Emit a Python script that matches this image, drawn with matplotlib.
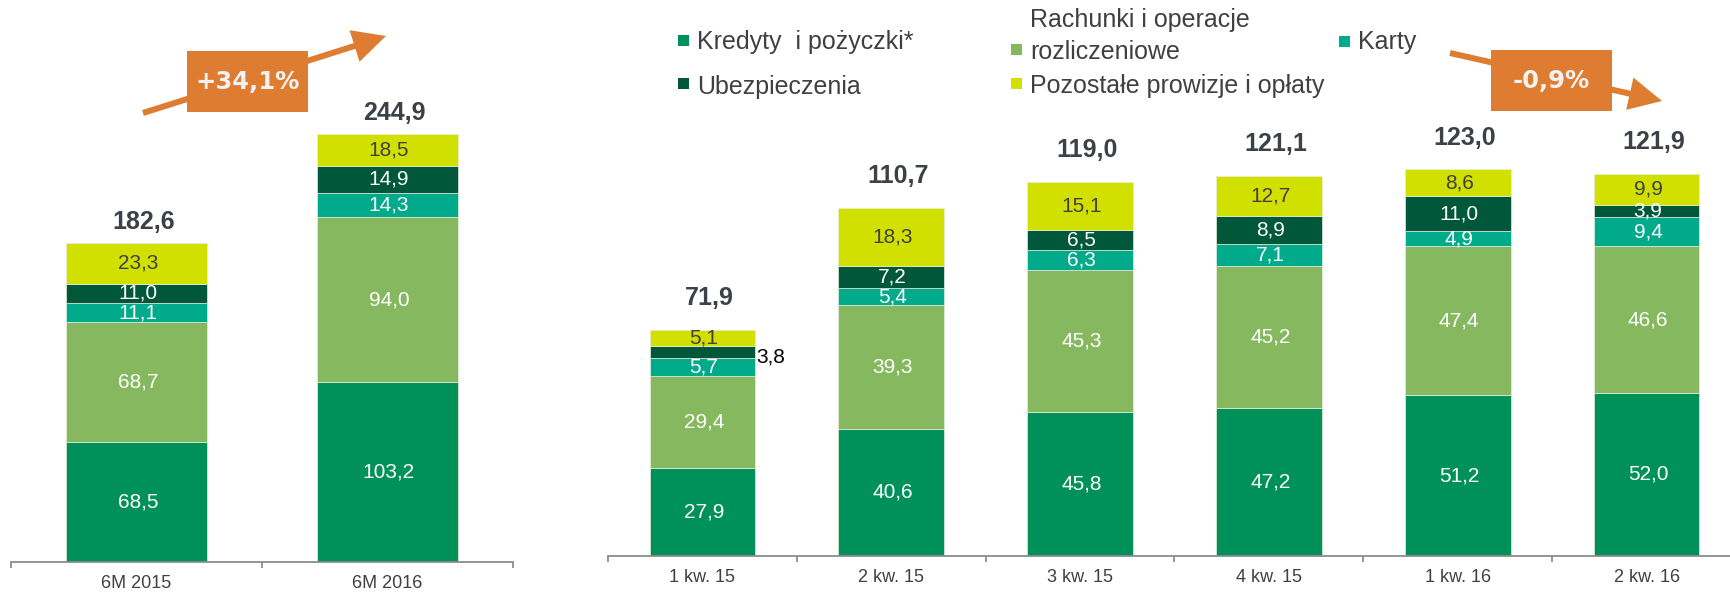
import matplotlib
matplotlib.use('Agg')
import matplotlib.pyplot as plt
from matplotlib.patches import Rectangle, FancyArrow
import numpy as np

plt.rcParams['font.family'] = ['Liberation Sans', 'DejaVu Sans']

W, H = 1731, 593

# ---------------- data ----------------
series_names = ['Kredyty  i pożyczki*', 'Rachunki i operacje\nrozliczeniowe', 'Karty',
                'Ubezpieczenia', 'Pozostałe prowizje i opłaty']
colors = ['#00915A', '#86B95F', '#00AA8A', '#00573A', '#D2E000']

left_categories = ['6M 2015', '6M 2016']
left_kredyty = [68.5, 103.2]
left_rachunki = [68.7, 94.0]
left_karty = [11.1, 14.3]
left_ubezp = [11.0, 14.9]
left_pozostale = [23.3, 18.5]
left_totals = [182.6, 244.9]

right_categories = ['1 kw. 15', '2 kw. 15', '3 kw. 15', '4 kw. 15', '1 kw. 16', '2 kw. 16']
right_kredyty = [27.9, 40.6, 45.8, 47.2, 51.2, 52.0]
right_rachunki = [29.4, 39.3, 45.3, 45.2, 47.4, 46.6]
right_karty = [5.7, 5.4, 6.3, 7.1, 4.9, 9.4]
right_ubezp = [3.8, 7.2, 6.5, 8.9, 11.0, 3.9]
right_pozostale = [5.1, 18.3, 15.1, 12.7, 8.6, 9.9]
right_totals = [71.9, 110.7, 119.0, 121.1, 123.0, 121.9]

left_change = '+34,1%'
right_change = '-0,9%'

TXT = '#404040'
TOTAL_C = '#3C4147'
AXIS_C = '#8C8C8C'
ORANGE = '#DE7C31'


def fmt(v):
    return f'{v:.1f}'.replace('.', ',')


fig = plt.figure(figsize=(W / 100, H / 100), dpi=100)


def draw(ax, cats, series, totals, total_offset, bw, outside=()):
    x = np.arange(len(cats))
    bottom = np.zeros(len(cats))
    for i, (vals, col) in enumerate(zip(series, colors)):
        vals = np.array(vals, dtype=float)
        ax.bar(x, vals, bw, bottom=bottom, color=col, edgecolor='#E6EEDC', linewidth=0.5)
        for j, v in enumerate(vals):
            yc = bottom[j] + v / 2
            if (i, j) in outside:
                ax.annotate(fmt(v), (x[j] + bw / 2, yc), xytext=(0.5, -3.5),
                            textcoords='offset points', ha='left', va='center',
                            fontsize=15, color='black')
            else:
                ax.annotate(fmt(v), (x[j], yc), xytext=(1, 0), textcoords='offset points',
                            ha='center', va='center', fontsize=15,
                            color=(TXT if i == 4 else 'white'))
        bottom += vals
    for j, t in enumerate(totals):
        ax.annotate(fmt(t), (x[j], bottom[j]), xytext=(5, total_offset),
                    textcoords='offset points', ha='center', va='center',
                    fontsize=18, fontweight='bold', color=TOTAL_C)
    ax.set_xlim(-0.5, len(cats) - 0.5)
    for s in ['top', 'left', 'right']:
        ax.spines[s].set_visible(False)
    ax.spines['bottom'].set_color(AXIS_C)
    ax.spines['bottom'].set_linewidth(1.3)
    ax.set_yticks([])
    ax.set_xticks(x)
    ax.set_xticklabels(cats, fontsize=13, color=TXT)
    ax.tick_params(axis='x', which='major', length=0, pad=9)
    ax.set_xticks(np.arange(len(cats) + 1) - 0.5, minor=True)
    ax.tick_params(axis='x', which='minor', length=4, width=1.3, color=AXIS_C, direction='out')
    ax.patch.set_visible(False)


axL = fig.add_axes([11 / W, (H - 562) / H, 502 / W, 562 / H])
axL.set_ylim(0, 562 / 1.747)
draw(axL, left_categories,
     [left_kredyty, left_rachunki, left_karty, left_ubezp, left_pozostale],
     left_totals, 15, 0.56)

axR = fig.add_axes([608 / W, (H - 556) / H, 1133 / W, 556 / H])
axR.set_ylim(0, 556 / 3.14)
draw(axR, right_categories,
     [right_kredyty, right_rachunki, right_karty, right_ubezp, right_pozostale],
     right_totals, 23, 0.56, outside={(3, 0)})

# ---------------- overlay: arrows, boxes, legend ----------------
ov = fig.add_axes([0, 0, 1, 1])
ov.set_xlim(0, W)
ov.set_ylim(H, 0)
ov.axis('off')
ov.patch.set_visible(False)


def arrow(x0, y0, x1, y1):
    ov.add_patch(FancyArrow(x0, y0, x1 - x0, y1 - y0, width=6, head_width=33,
                            head_length=33, length_includes_head=True,
                            color=ORANGE, linewidth=0))


arrow(143, 113, 386, 36)
arrow(1450, 53, 1662, 101)

for (bx, by, txt) in [(187, 51, left_change), (1491, 50, right_change)]:
    ov.add_patch(Rectangle((bx, by), 121, 61, color=ORANGE, linewidth=0))
    ov.text(bx + 60.5, by + 31, txt, ha='center', va='center', color='#F2F2F2',
            fontsize=17.5, fontweight='bold', family=['DejaVu Sans'])

legend_marker = [(684, 40), (1017, 49), (1345, 41), (684, 83), (1017, 83)]
legend_text_y = [42, 36, 42, 87, 86]
for (name, col, (lx, ly), ty) in zip(series_names, colors, legend_marker, legend_text_y):
    ov.add_patch(Rectangle((lx - 5.5, ly - 5.5), 11, 11, color=col, linewidth=0))
    ov.text(lx + 13, ty, name, ha='left', va='center', fontsize=18, color=TXT,
            linespacing=1.4)

fig.savefig('out.png', dpi=100)
